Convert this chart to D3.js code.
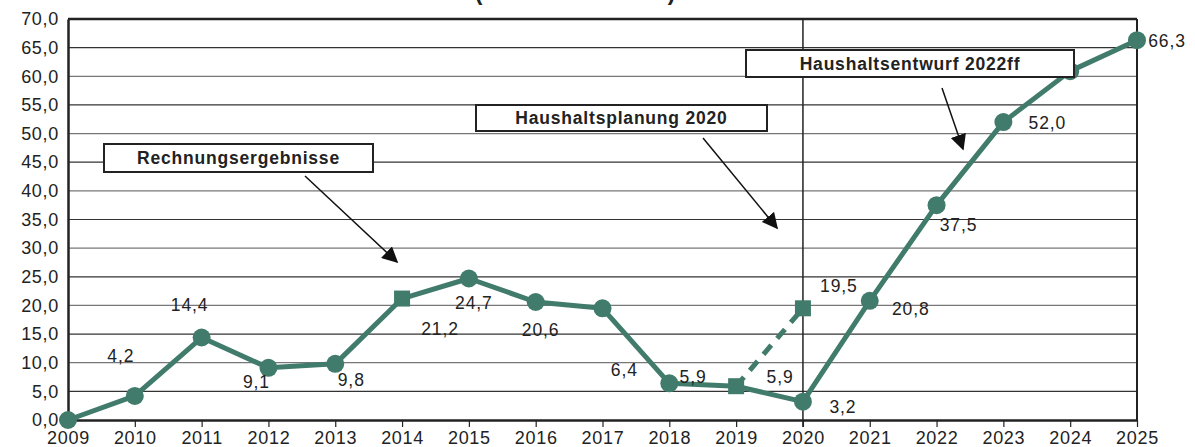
<!DOCTYPE html>
<html>
<head>
<meta charset="utf-8">
<script src="https://cdn.jsdelivr.net/npm/d3@7"></script>
<style>
  body { margin: 0; background: #fff; }
  svg { display: block; font-family: 'Liberation Sans', Arial, sans-serif; }
  .tick-label { font-size: 18px; letter-spacing: 0.7px; fill: #222; }
  .value-label { font-size: 17.5px; letter-spacing: 0.9px; fill: #222; }
  .box-label { font-size: 17.5px; letter-spacing: 0.8px; font-weight: bold; fill: #222; }
</style>
</head>
<body>
<div class="chart"></div>
<script>
// data
const years = [2009, 2010, 2011, 2012, 2013, 2014, 2015, 2016, 2017, 2018, 2019, 2020, 2021, 2022, 2023, 2024, 2025]
const actual = [0, 4.2, 14.4, 9.1, 9.8, 21.2, 24.7, 20.6, 19.5, 6.4, 5.9, 3.2, 20.8, 37.5, 52.0, 60.9, 66.3]
const actualLabels = [null, '4,2', '14,4', '9,1', '9,8', '21,2', '24,7', '20,6', null, '6,4', '5,9', '3,2', '20,8', '37,5', '52,0', null, '66,3']
const planYears = [2019, 2020]
const plan = [5.9, 19.5]
const planLabels = ['5,9', '19,5']
const yTicks = [0, 5, 10, 15, 20, 25, 30, 35, 40, 45, 50, 55, 60, 65, 70]
const annotations = ['Rechnungsergebnisse', 'Haushaltsplanung 2020', 'Haushaltsentwurf 2022ff']

// layout bits (not data)
const squareYears = [2014, 2019]
const labelOffset = {
  2010: [-14, -34], 2011: [-12, -27], 2012: [-12, 20], 2013: [16, 22],
  2014: [38, 36], 2015: [5, 30], 2016: [5, 34], 2018: [-45, -7],
  2019: [-43, -3], 2020: [40, 11], 2021: [41, 14], 2022: [22, 26],
  2023: [44, 7], 2025: [30, 7]
}
const planOffset = [[44, -3], [36, -16]]

const W = 1195, H = 447
const mLeft = 68, mRight = 1137, mTop = 19, mBottom = 420
const green = '#417b6c'

const svg = d3.select('.chart').append('svg')
  .attr('width', W)
  .attr('height', H)

const x = d3.scaleLinear().domain([2009, 2025]).range([mLeft, mRight])
const y = d3.scaleLinear().domain([0, 70]).range([mBottom, mTop])

// title (mostly outside the picture, as in the source)
svg.append('text')
  .attr('x', 575)
  .attr('y', 0)
  .attr('text-anchor', 'middle')
  .style('font-size', '23px')
  .style('font-weight', 'bold')
  .style('fill', '#222')
  .text('(in Millionen Euro)')

// gridlines
svg.append('g')
  .selectAll('line')
  .data(yTicks.filter(d => d > 0 && d < 70))
  .enter().append('line')
    .attr('x1', mLeft).attr('x2', mRight)
    .attr('y1', d => y(d)).attr('y2', d => y(d))
    .attr('stroke', (d, i) => i % 2 ? '#777' : '#333')
    .attr('stroke-width', 1.2)

// y axis
const yAxis = svg.append('g')
  .attr('transform', `translate(${mLeft},0)`)
  .call(d3.axisLeft(y).tickValues(yTicks).tickSize(0).tickPadding(9)
    .tickFormat(d => d3.format('.1f')(d).replace('.', ',')))
yAxis.select('.domain').attr('stroke', '#222').attr('stroke-width', 2.5)
yAxis.selectAll('text').attr('class', 'tick-label').attr('font-family', null).attr('font-size', null)

// x axis
const xAxis = svg.append('g')
  .attr('transform', `translate(0,${mBottom})`)
  .call(d3.axisBottom(x).tickValues(years).tickSize(7).tickSizeOuter(0).tickPadding(4)
    .tickFormat(d3.format('d')))
xAxis.select('.domain').attr('stroke', '#222').attr('stroke-width', 2.5)
xAxis.selectAll('line').attr('stroke', '#222').attr('stroke-width', 1.2)
xAxis.selectAll('text').attr('class', 'tick-label').attr('font-family', null).attr('font-size', null)

// frame top and right
svg.append('line')
  .attr('x1', mLeft).attr('x2', mRight).attr('y1', y(70)).attr('y2', y(70))
  .attr('stroke', '#222').attr('stroke-width', 2.5)
svg.append('line')
  .attr('x1', mRight).attr('x2', mRight).attr('y1', mTop).attr('y2', mBottom)
  .attr('stroke', '#222').attr('stroke-width', 2)

// divider at 2020
svg.append('line')
  .attr('x1', x(2020)).attr('x2', x(2020)).attr('y1', mTop).attr('y2', mBottom + 7)
  .attr('stroke', '#222').attr('stroke-width', 1.5)

// lines
const line = d3.line().x(d => x(d[0])).y(d => y(d[1]))
svg.append('path')
  .attr('d', line(planYears.map((d, i) => [d, plan[i]])))
  .attr('fill', 'none').attr('stroke', green).attr('stroke-width', 5)
  .attr('stroke-dasharray', '12,9')
svg.append('path')
  .attr('d', line(years.map((d, i) => [d, actual[i]])))
  .attr('fill', 'none').attr('stroke', green).attr('stroke-width', 5)
  .attr('stroke-linejoin', 'round')

// markers
const pts = years.map((d, i) => ({ year: d, value: actual[i], square: squareYears.includes(d) }))
svg.append('g').selectAll('circle')
  .data(pts.filter(d => !d.square))
  .enter().append('circle')
    .attr('cx', d => x(d.year)).attr('cy', d => y(d.value))
    .attr('r', 9).attr('fill', green)
svg.append('g').selectAll('rect')
  .data(pts.filter(d => d.square).concat([{ year: planYears[1], value: plan[1] }]))
  .enter().append('rect')
    .attr('x', d => x(d.year) - 8).attr('y', d => y(d.value) - 8)
    .attr('width', 16).attr('height', 16).attr('fill', green)

// value labels
svg.append('g').selectAll('text')
  .data(pts.map((d, i) => ({ ...d, label: actualLabels[i] })).filter(d => d.label))
  .enter().append('text')
    .attr('class', 'value-label')
    .attr('text-anchor', 'middle')
    .attr('x', d => x(d.year) + labelOffset[d.year][0])
    .attr('y', d => y(d.value) + labelOffset[d.year][1])
    .text(d => d.label)
svg.append('g').selectAll('text')
  .data(planYears.map((d, i) => ({ year: d, value: plan[i], label: planLabels[i], off: planOffset[i] })))
  .enter().append('text')
    .attr('class', 'value-label')
    .attr('text-anchor', 'middle')
    .attr('x', d => x(d.year) + d.off[0])
    .attr('y', d => y(d.value) + d.off[1])
    .text(d => d.label)

// annotation boxes and arrows
const boxes = [
  { x: 104, y: 144, w: 269, h: 28, arrow: [305, 176, 397, 262] },
  { x: 476, y: 105, w: 291, h: 26, arrow: [703, 138, 777, 228] },
  { x: 746, y: 50, w: 328, h: 27, arrow: [942, 88, 963, 149] }
]

svg.append('defs').append('marker')
  .attr('id', 'head')
  .attr('viewBox', '0 0 10 10')
  .attr('refX', 9).attr('refY', 5)
  .attr('markerWidth', 16).attr('markerHeight', 16)
  .attr('markerUnits', 'userSpaceOnUse')
  .attr('orient', 'auto')
  .append('path').attr('d', 'M0,0 L10,5 L0,10 z').attr('fill', '#111')

svg.append('g').selectAll('line')
  .data(boxes)
  .enter().append('line')
    .attr('x1', d => d.arrow[0]).attr('y1', d => d.arrow[1])
    .attr('x2', d => d.arrow[2]).attr('y2', d => d.arrow[3])
    .attr('stroke', '#111').attr('stroke-width', 1.5)
    .attr('marker-end', 'url(#head)')

const box = svg.append('g').selectAll('g')
  .data(boxes)
  .enter().append('g')
box.append('rect')
  .attr('x', d => d.x).attr('y', d => d.y)
  .attr('width', d => d.w).attr('height', d => d.h)
  .attr('fill', '#fff').attr('stroke', '#222').attr('stroke-width', 2)
box.append('text')
  .attr('class', 'box-label')
  .attr('x', d => d.x + d.w / 2)
  .attr('y', d => d.y + d.h / 2 + 6)
  .attr('text-anchor', 'middle')
  .text((d, i) => annotations[i])
</script>
</body>
</html>
